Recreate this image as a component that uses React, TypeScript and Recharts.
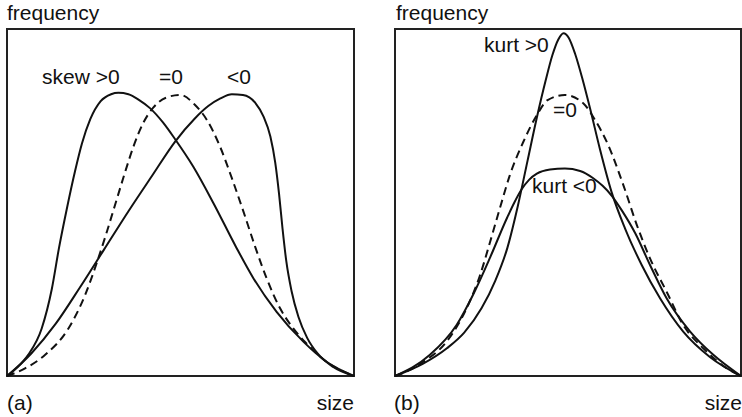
import { LineChart, Line, XAxis, YAxis, ReferenceArea } from 'recharts'

// x = size (0..100 across the frame), y = frequency (0..100 of the frame height)
const skewPositive = [
  [0, 0], [3, 2.5], [6.1, 6.1], [10, 13.7], [12.9, 25], [15, 37], [17.2, 48],
  [19.6, 59], [21.6, 67], [24, 74], [27, 79.2], [30, 81.2], [32.1, 81.6],
  [35, 81.2], [38, 79.6], [41.2, 77.2], [45, 73], [48.4, 68.3], [53.7, 60.3],
  [59.5, 49.8], [66, 37.2], [71, 28.2], [77.7, 18.5], [85.4, 9.9],
  [92.1, 4.1], [100, 0],
]
const skewZero = [
  [0, 0], [5.2, 2.2], [11, 6.1], [17.7, 13.7], [22.5, 23.3], [26, 33],
  [28.6, 41], [31.2, 49.5], [33.8, 58], [36.4, 66], [39.2, 72.8],
  [42.2, 77.4], [45.8, 80.2], [49.9, 81], [54.2, 78.1], [57.6, 73.8],
  [61.4, 66.1], [64.8, 57], [68.1, 47.5], [71.5, 37.3], [74.8, 28.2],
  [78.7, 19.5], [82.5, 13.7], [86.4, 9.3], [92.1, 4.1], [100, 0],
]
const skewNegative = [
  [0, 0], [7, 6.5], [14, 15], [21, 25.5], [28, 36.5], [35, 47.5], [42, 58],
  [48.4, 67.5], [54.2, 74.3], [58, 77.8], [61.5, 80], [64.8, 81.2], [68, 81],
  [71.5, 78.8], [73.9, 74.8], [75.9, 69], [77.3, 61.5], [78.4, 52.5],
  [79.4, 42.5], [80.5, 33], [82, 24.5], [84, 17], [86.5, 11], [89.5, 6.5],
  [94, 2.6], [100, 0],
]

const kurtPositive = [
  [0, 0], [8, 3.5], [15, 8], [20, 12.5], [25, 19.5], [29, 27.5], [32.5, 37],
  [35.5, 49], [38.3, 62], [41, 74.5], [43.5, 85], [45.5, 92.5], [47.2, 97],
  [48.7, 98.8], [50.2, 97.5], [52, 93], [54.2, 85.5], [56.4, 77],
  [59.2, 65.5], [62.6, 53], [66.5, 42.5], [71.3, 32], [76.6, 22.4],
  [83.3, 12.8], [91, 5.5], [100, 0],
]
const kurtZero = [
  [0, 0], [4, 1.6], [8.2, 4.1], [14.9, 9.9], [20.7, 19.5], [24.6, 29.1],
  [27.5, 38.7], [30.3, 48.3], [33.2, 57.9], [37.1, 67.5], [41, 75.2],
  [44.1, 79.5], [49.1, 81], [54.4, 78.6], [57.8, 73.8], [61.6, 66.6],
  [66, 55], [69.9, 43.5], [73.7, 33.9], [78.5, 24.3], [83.3, 14.7],
  [89.1, 8], [95.9, 2.2], [100, 0],
]
const kurtNegative = [
  [0, 0], [10.1, 6.1], [17.8, 14.7], [22.6, 23.5], [27.5, 34.2], [32.3, 45.4],
  [34.5, 50], [36.6, 53.8], [38.8, 56.6], [41, 58.3], [44.8, 59.5],
  [49.1, 59.8], [53.5, 59.1], [57.3, 57], [60, 54.8], [62.6, 52],
  [65.5, 47.8], [69.4, 41.2], [73.7, 32], [78.5, 22.4], [85.3, 12.8],
  [92, 6.1], [100, 0],
]

const FONT = '"Liberation Sans", Arial, Helvetica, sans-serif'
const INK = '#111'

const toPoints = (pairs: number[][]) => pairs.map(([x, y]) => ({ x, y }))

type Curve = { points: number[][]; dashed?: boolean }
type Note = { text: string; x: number; y: number; anchor?: 'start' | 'end' }

function Panel({
  left,
  margin,
  curves,
  notes,
}: {
  left: number
  margin: { top: number; right: number; bottom: number; left: number }
  curves: Curve[]
  notes: Note[]
}) {
  return (
    <div style={{ position: 'absolute', left, top: 0 }}>
      <LineChart width={371} height={417} margin={margin}>
        <XAxis type="number" dataKey="x" domain={[0, 100]} hide />
        <YAxis type="number" dataKey="y" domain={[0, 100]} hide />
        <ReferenceArea
          x1={0}
          x2={100}
          y1={0}
          y2={100}
          fill="none"
          stroke="#222"
          strokeWidth={2}
          fillOpacity={0}
          strokeOpacity={1}
        />
        {curves.map((c, i) => (
          <Line
            key={i}
            data={toPoints(c.points)}
            dataKey="y"
            type="monotone"
            stroke={INK}
            strokeWidth={2}
            strokeDasharray={c.dashed ? '8 5' : undefined}
            dot={false}
            activeDot={false}
            isAnimationActive={false}
          />
        ))}
        {notes.map((n, i) => (
          <text
            key={i}
            x={n.x}
            y={n.y}
            textAnchor={n.anchor ?? 'start'}
            fontFamily={FONT}
            fontSize={21}
            fill={INK}
          >
            {n.text}
          </text>
        ))}
      </LineChart>
    </div>
  )
}

export default function App() {
  return (
    <div
      style={{
        position: 'absolute',
        left: 0,
        top: 0,
        width: 742,
        height: 417,
        background: '#fff',
      }}
    >
      <Panel
        left={0}
        margin={{ top: 29, right: 17, bottom: 41, left: 7 }}
        curves={[
          { points: skewPositive },
          { points: skewZero, dashed: true },
          { points: skewNegative },
        ]}
        notes={[
          { text: 'frequency', x: 7, y: 20 },
          { text: 'skew >0', x: 42, y: 84 },
          { text: '=0', x: 159, y: 84 },
          { text: '<0', x: 227, y: 84 },
          { text: '(a)', x: 7, y: 410 },
          { text: 'size', x: 354, y: 410, anchor: 'end' },
        ]}
      />
      <Panel
        left={371}
        margin={{ top: 29, right: 1, bottom: 41, left: 24 }}
        curves={[
          { points: kurtPositive },
          { points: kurtZero, dashed: true },
          { points: kurtNegative },
        ]}
        notes={[
          { text: 'frequency', x: 25, y: 20 },
          { text: 'kurt >0', x: 113, y: 52 },
          { text: '=0', x: 182, y: 117 },
          { text: 'kurt <0', x: 161, y: 193 },
          { text: '(b)', x: 23, y: 410 },
          { text: 'size', x: 371, y: 410, anchor: 'end' },
        ]}
      />
    </div>
  )
}
